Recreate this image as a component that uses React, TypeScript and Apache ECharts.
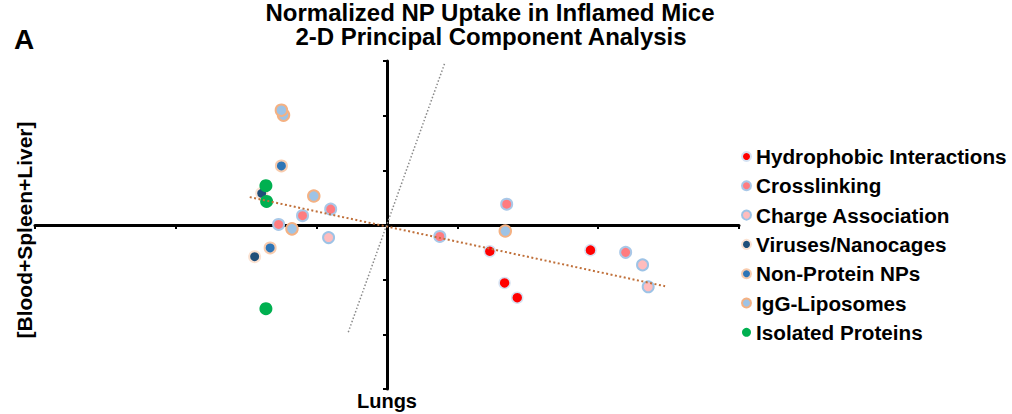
import React, { useEffect, useRef } from "react";
import * as echarts from "echarts";

const categories = [
  "Hydrophobic Interactions",
  "Crosslinking",
  "Charge Association",
  "Viruses/Nanocages",
  "Non-Protein NPs",
  "IgG-Liposomes",
  "Isolated Proteins",
];

const hydrophobic = [
  [1.46, -0.48],
  [2.89, -0.46],
  [1.67, -1.06],
  [1.85, -1.33],
];
const crosslinking = [
  [-0.8, 0.29],
  [-1.2, 0.17],
  [-1.54, 0.01],
  [1.7, 0.38],
  [0.75, -0.21],
  [3.39, -0.5],
];
const chargeAssociation = [
  [-0.83, -0.23],
  [3.63, -0.73],
  [3.71, -1.13],
];
const viruses = [
  [-1.78, 0.58],
  [-1.88, -0.58],
];
const nonProtein = [
  [-1.5, 1.08],
  [-1.66, -0.42],
];
const iggLiposomes = [
  [-1.47, 2.01],
  [-1.5, 2.1],
  [-1.04, 0.53],
  [-1.35, -0.07],
  [1.68, -0.11],
];
const isolatedProteins = [
  [-1.72, 0.72],
  [-1.71, 0.43],
  [-1.72, -1.53],
];

const trendLine = [
  [-1.95, 0.51],
  [3.95, -1.12],
];
const loadingLine = [
  [-0.55, -1.96],
  [0.82, 2.96],
];

const xTicks = [-5, -3, -1, 1, 3, 5];

const FONT = "Liberation Sans, Arial, Helvetica, sans-serif";

export default function App() {
  const ref = useRef<HTMLDivElement>(null);

  useEffect(() => {
    document.body.style.margin = "0";
    if (!ref.current) return;
    const chart = echarts.init(ref.current, null, { renderer: "svg" });

    const styles = [
      { color: "#ff0000", borderColor: "#d6e3f3", borderWidth: 1.5, size: 11 },
      { color: "#ff7c80", borderColor: "#a9c8e8", borderWidth: 2, size: 11 },
      { color: "#ffbcbd", borderColor: "#9dc3e6", borderWidth: 2, size: 11 },
      { color: "#1f4e79", borderColor: "#fbe2d2", borderWidth: 2, size: 11 },
      { color: "#2e75b6", borderColor: "#f8cbad", borderWidth: 2, size: 11 },
      { color: "#9dc3e6", borderColor: "#f4b183", borderWidth: 2, size: 11.5 },
      { color: "#00b050", borderColor: "#00b050", borderWidth: 0, size: 13 },
    ];
    const sets = [
      hydrophobic,
      crosslinking,
      chargeAssociation,
      viruses,
      nonProtein,
      iggLiposomes,
      isolatedProteins,
    ];

    const scatterSeries = categories.map((name, i) => ({
      name,
      type: "scatter",
      data: sets[i],
      symbol: "circle",
      symbolSize: styles[i].size,
      z: 2,
      itemStyle: {
        color: styles[i].color,
        borderColor: styles[i].borderColor,
        borderWidth: styles[i].borderWidth,
        opacity: 1,
      },
      emphasis: { disabled: true },
    }));

    chart.setOption({
      animation: false,
      backgroundColor: "#ffffff",
      grid: { left: 35, right: 273, top: 61, bottom: 25, containLabel: false },
      xAxis: {
        type: "value",
        min: -5,
        max: 5,
        axisLine: { onZero: true, lineStyle: { color: "#000", width: 3 } },
        axisTick: {
          show: true,
          length: 4,
          customValues: xTicks,
          lineStyle: { color: "#000", width: 2 },
        },
        axisLabel: { show: false },
        splitLine: { show: false },
      },
      yAxis: {
        type: "value",
        min: -3,
        max: 3,
        interval: 1,
        axisLine: { onZero: true, lineStyle: { color: "#000", width: 3 } },
        axisTick: { show: true, length: 4, lineStyle: { color: "#000", width: 2 } },
        axisLabel: { show: false },
        splitLine: { show: false },
      },
      legend: {
        orient: "vertical",
        left: 741,
        top: 146,
        padding: 0,
        itemWidth: 9,
        itemHeight: 9,
        itemGap: 8.3,
        icon: "circle",
        data: categories,
        textStyle: {
          fontSize: 20.7,
          fontWeight: "bold",
          fontFamily: FONT,
          color: "#000",
          lineHeight: 20,
        },
      },
      series: [
        ...scatterSeries,
        {
          name: "trend",
          type: "line",
          data: trendLine,
          symbol: "none",
          z: 5,
          lineStyle: { color: "#c0703a", width: 2, type: [2, 2.5] },
          silent: true,
        },
        {
          name: "loading",
          type: "line",
          data: loadingLine,
          symbol: "none",
          z: 5,
          lineStyle: { color: "#8a8a8a", width: 1.5, type: [1.5, 2] },
          silent: true,
        },
      ],
      graphic: [
        {
          type: "text",
          x: 14,
          y: 39,
          style: {
            text: "A",
            font: `bold 28px ${FONT}`,
            fill: "#000",
            textVerticalAlign: "middle",
          },
        },
        {
          type: "text",
          x: 490,
          y: 12.3,
          style: {
            text: "Normalized NP Uptake in Inflamed Mice",
            font: `bold 24px ${FONT}`,
            fill: "#000",
            textAlign: "center",
            textVerticalAlign: "middle",
          },
        },
        {
          type: "text",
          x: 491,
          y: 36.4,
          style: {
            text: "2-D Principal Component Analysis",
            font: `bold 24px ${FONT}`,
            fill: "#000",
            textAlign: "center",
            textVerticalAlign: "middle",
          },
        },
        {
          type: "text",
          x: 387,
          y: 401,
          style: {
            text: "Lungs",
            font: `bold 20px ${FONT}`,
            fill: "#000",
            textAlign: "center",
            textVerticalAlign: "middle",
          },
        },
        {
          type: "text",
          x: 24,
          y: 230,
          rotation: Math.PI / 2,
          style: {
            text: "[Blood+Spleen+Liver]",
            font: `bold 21px ${FONT}`,
            fill: "#000",
            textAlign: "center",
            textVerticalAlign: "middle",
          },
        },
      ],
    });

    return () => chart.dispose();
  }, []);

  return <div ref={ref} style={{ width: 1012, height: 414 }} />;
}
